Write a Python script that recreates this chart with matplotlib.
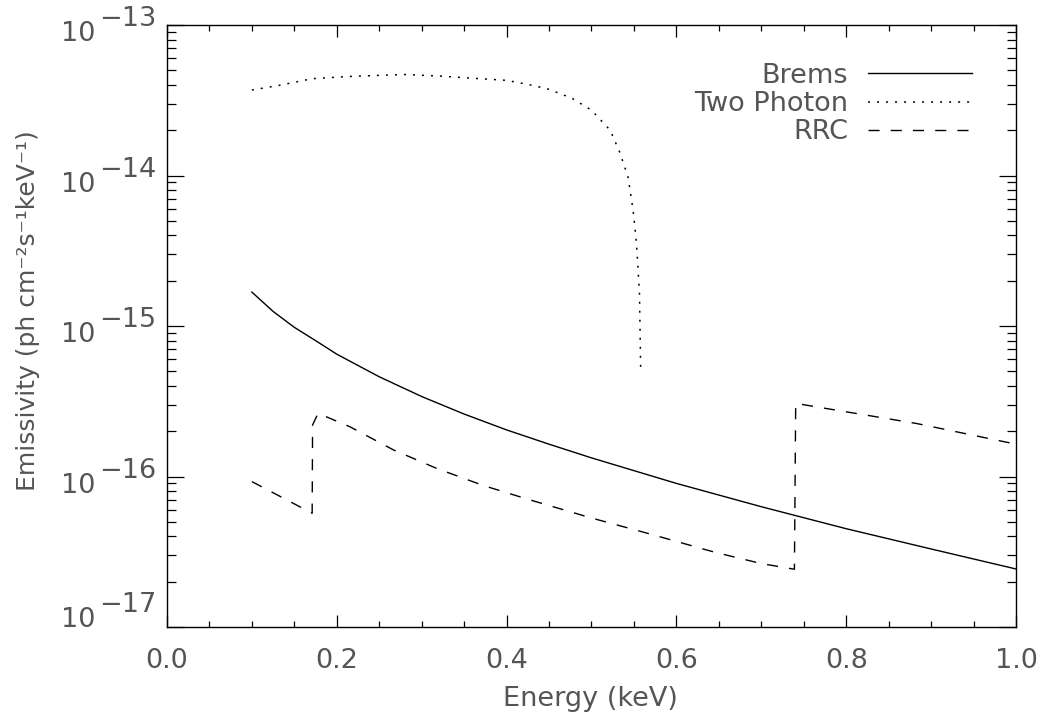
# Emissivity of the continuum components (Brems, Two Photon, RRC)

# ################### IMPORT ####################
import matplotlib
matplotlib.use("Agg")
import matplotlib.pyplot as plt
import matplotlib.transforms as mtransforms
from matplotlib.ticker import MultipleLocator, LogLocator, NullFormatter, FixedLocator


# ################### DATA ####################
brems_energy = [0.10, 0.125, 0.15, 0.175, 0.20, 0.25, 0.30, 0.35, 0.40, 0.45,
                0.50, 0.60, 0.70, 0.80, 0.90, 1.00]
brems_flux = [1.68e-15, 1.25e-15, 9.8e-16, 8.0e-16, 6.5e-16, 4.6e-16, 3.4e-16,
              2.6e-16, 2.04e-16, 1.64e-16, 1.33e-16, 9.0e-17, 6.3e-17, 4.5e-17,
              3.3e-17, 2.43e-17]

twophoton_energy = [0.10, 0.132, 0.171, 0.211, 0.25, 0.28, 0.321, 0.36, 0.40,
                    0.43, 0.45, 0.477, 0.50, 0.522, 0.533, 0.543, 0.549, 0.553,
                    0.5565, 0.558]
twophoton_flux = [3.70e-14, 3.97e-14, 4.40e-14, 4.54e-14, 4.63e-14, 4.69e-14,
                  4.58e-14, 4.43e-14, 4.29e-14, 3.98e-14, 3.74e-14, 3.26e-14,
                  2.72e-14, 2.0e-14, 1.44e-14, 9.8e-15, 5.9e-15, 3.55e-15,
                  1.65e-15, 4.9e-16]

rrc_energy = [0.10, 0.171, 0.1715, 0.178, 0.2155, 0.267, 0.318, 0.373, 0.428,
              0.50, 0.569, 0.646, 0.70, 0.739, 0.7405, 0.883, 1.00]
rrc_flux = [9.25e-17, 5.7e-17, 2.2e-16, 2.63e-16, 2.14e-16, 1.50e-16, 1.13e-16,
            8.7e-17, 6.98e-17, 5.3e-17, 4.15e-17, 3.13e-17, 2.64e-17, 2.42e-17,
            3.06e-16, 2.25e-16, 1.64e-16]

x_ticks = [0.0, 0.2, 0.4, 0.6, 0.8, 1.0]
x_tick_labels = ["0.0", "0.2", "0.4", "0.6", "0.8", "1.0"]
y_decades = [-13, -14, -15, -16, -17]


# ################### CONSTANTS ####################
TEXT_COLOR = "#555555"
FONT_SIZE = 19.5
DPI = 100


# ################### MAIN ####################
plt.rcParams["font.family"] = ["DejaVu Sans"]

fig = plt.figure(figsize=(10.41, 7.13), dpi=DPI)
ax = fig.add_axes([0.1604, 0.1206, 0.8156, 0.8443])

ax.plot(brems_energy, brems_flux, color="black", lw=1.0, label="Brems")
ax.plot(twophoton_energy, twophoton_flux, color="black", lw=1.1,
        dashes=(1.3, 4.6), label="Two Photon")
ax.plot(rrc_energy, rrc_flux, color="black", lw=1.0,
        dashes=(8.0, 8.0), label="RRC")

ax.set_yscale("log")
ax.set_xlim(0.0, 1.0)
ax.set_ylim(1e-17, 1e-13)

for s in ax.spines.values():
    s.set_linewidth(1.0)
    s.set_color("black")

# x axis ticks (IDL style, inward on both sides)
ax.xaxis.set_major_locator(FixedLocator(x_ticks))
ax.xaxis.set_minor_locator(MultipleLocator(0.05))
ax.set_xticklabels(x_tick_labels)
ax.tick_params(axis="x", which="major", direction="in", length=8.6, width=0.9,
               top=True, bottom=True, labelsize=FONT_SIZE,
               labelcolor=TEXT_COLOR, pad=15)
ax.tick_params(axis="x", which="minor", direction="in", length=4.4, width=0.9,
               top=True, bottom=True)

# y axis ticks
ax.yaxis.set_major_locator(LogLocator(base=10, numticks=10))
ax.yaxis.set_minor_locator(LogLocator(base=10, subs=range(2, 10), numticks=20))
ax.yaxis.set_major_formatter(NullFormatter())
ax.yaxis.set_minor_formatter(NullFormatter())
ax.tick_params(axis="y", which="major", direction="in", length=12.2, width=0.9,
               left=True, right=True)
ax.tick_params(axis="y", which="minor", direction="in", length=6.3, width=0.9,
               left=True, right=True)

# y tick labels drawn as "10" with a raised exponent, like the IDL output
trans = mtransforms.blended_transform_factory(ax.transAxes, ax.transData)
for d in y_decades:
    shift = 16 if d == -17 else 0
    base_tr = mtransforms.offset_copy(trans, fig=fig, x=-72, y=-16 + shift,
                                      units="dots")
    exp_tr = mtransforms.offset_copy(trans, fig=fig, x=-68, y=-1 + shift,
                                     units="dots")
    ax.text(0, 10.0 ** d, "10", transform=base_tr, ha="right", va="baseline",
            fontsize=FONT_SIZE, color=TEXT_COLOR)
    ax.text(0, 10.0 ** d, "\u2212" + str(-d), transform=exp_tr, ha="left",
            va="baseline", fontsize=FONT_SIZE, color=TEXT_COLOR)

fig.text(0.567, 0.0098, "Energy (keV)", ha="center", va="baseline",
         fontsize=FONT_SIZE, color=TEXT_COLOR)
fig.text(0.027, 0.565, "Emissivity (ph cm\u207b\u00b2s\u207b\u00b9keV\u207b\u00b9)",
         rotation=90, ha="center", va="center", fontsize=18,
         color=TEXT_COLOR)

leg = ax.legend(loc="upper right", bbox_to_anchor=(0.948, 0.937),
                frameon=False, markerfirst=False, fontsize=FONT_SIZE,
                handlelength=3.84, handletextpad=0.72, labelspacing=0.08,
                borderpad=0, borderaxespad=0)
for t in leg.get_texts():
    t.set_color(TEXT_COLOR)

fig.savefig("out.png", dpi=DPI)
